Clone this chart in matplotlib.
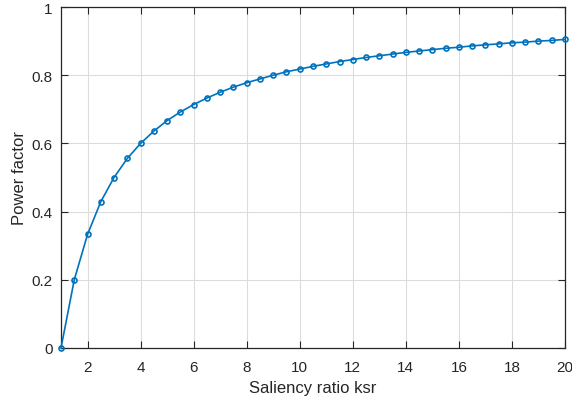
#!/usr/bin/env python3
import matplotlib
matplotlib.use("Agg")
import matplotlib.pyplot as plt

plt.rcParams['font.family'] = ['Liberation Sans', 'DejaVu Sans']

ksr = [1, 1.5, 2, 2.5, 3, 3.5, 4, 4.5, 5, 5.5, 6, 6.5, 7, 7.5, 8, 8.5, 9, 9.5, 10,
       10.5, 11, 11.5, 12, 12.5, 13, 13.5, 14, 14.5, 15, 15.5, 16, 16.5, 17, 17.5,
       18, 18.5, 19, 19.5, 20]
powerfactor = [0, 0.2, 0.333, 0.429, 0.5, 0.556, 0.6, 0.636, 0.667, 0.692, 0.714,
               0.733, 0.75, 0.765, 0.778, 0.789, 0.8, 0.81, 0.818, 0.826, 0.833,
               0.84, 0.846, 0.852, 0.857, 0.862, 0.867, 0.871, 0.875, 0.879, 0.882,
               0.886, 0.889, 0.892, 0.895, 0.897, 0.9, 0.902, 0.905]
xticks = [2, 4, 6, 8, 10, 12, 14, 16, 18, 20]
yticks = [0, 0.2, 0.4, 0.6, 0.8, 1]

fig = plt.figure(figsize=(5.72, 4.02), dpi=100)
ax = fig.add_axes([61/572, 1-349/402, (565-61)/572, (349-8)/402])
ax.plot(ksr, powerfactor, color='#0072BD', lw=1.2, marker='o', ms=3.6,
        mfc='none', mew=1.2, clip_on=False, zorder=3)
ax.set_xlim(1, 20)
ax.set_ylim(0, 1)
ax.set_xticks(xticks)
ax.set_yticks(yticks)
ax.set_yticklabels(['0', '0.2', '0.4', '0.6', '0.8', '1'])
ax.grid(True, color='#dcdcdc', lw=0.8)
ax.set_axisbelow(True)
ax.tick_params(direction='in', top=True, right=True, labelsize=11, colors='#262626',
               length=5, width=0.8)
ax.tick_params(axis='x', pad=9)
ax.tick_params(axis='y', pad=6)
for s in ax.spines.values():
    s.set_color('#262626')
    s.set_linewidth(0.9)
ax.set_xlabel("Saliency ratio ksr", fontsize=12, color='#262626', labelpad=4)
ax.set_ylabel("Power factor", fontsize=12, color='#262626', labelpad=3)

fig.savefig("out.png", dpi=100)
